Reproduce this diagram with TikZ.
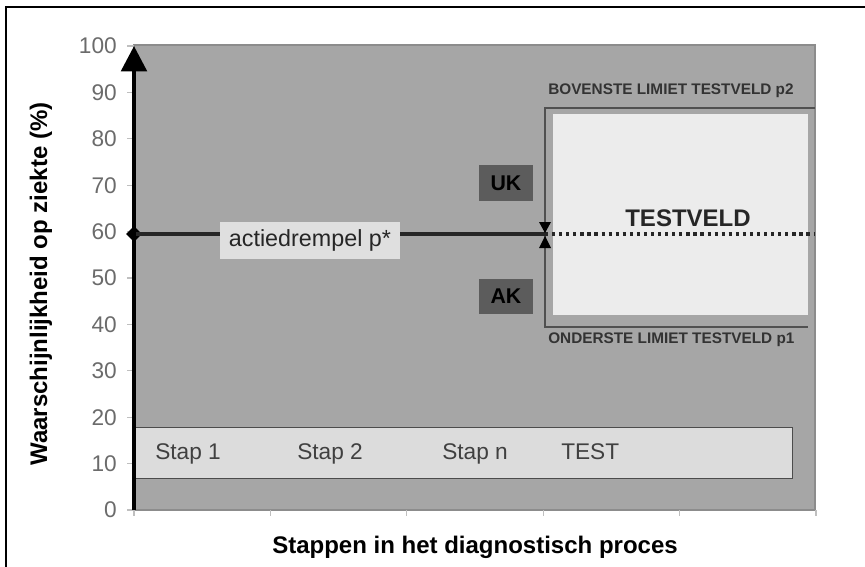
\documentclass[tikz,border=0pt]{standalone}
\usepackage{fontspec}
\setmainfont{Liberation Sans}
\usepackage{tikz}
\usetikzlibrary{arrows.meta,positioning,shapes.geometric}
\definecolor{plotgrey}{RGB}{166,166,166}
\definecolor{bandgrey}{RGB}{220,220,220}
\definecolor{veldgrey}{RGB}{236,236,236}
\definecolor{kgrey}{RGB}{92,92,92}
\definecolor{randgrey}{RGB}{80,80,80}
\tikzset{
  plotarea/.style={fill=plotgrey,draw=black!45,line width=0.8pt},
  tickmark/.style={draw=black!25,line width=0.8pt},
  ticklabel/.style={anchor=east,inner sep=0pt,text=black!58,
    font=\fontsize{17}{17}\selectfont},
  staplabel/.style={anchor=base west,inner sep=0pt,text=black!75,
    font=\fontsize{17}{17}\selectfont},
  limitlabel/.style={anchor=base west,inner sep=0pt,text=black!80,
    font=\bfseries\fontsize{11.5}{12}\selectfont},
  kbox/.style={fill=kgrey,minimum width=40pt,minimum height=26.5pt,
    inner sep=0pt,font=\bfseries\fontsize{16}{16}\selectfont},
  axistitle/.style={inner sep=0pt,font=\bfseries\fontsize{18}{18}\selectfont},
  drempelline/.style={draw=black!85,line width=2.3pt},
  veldline/.style={draw=randgrey,line width=1.2pt}
}
\begin{document}
\begin{tikzpicture}[x=0.75pt,y=-0.75pt]
  \useasboundingbox (0,0) rectangle (865,567);
  % kader
  \draw[black,line width=0.8pt] (6,567) -- (6,7) -- (865,7);
  % grijs veld
  \draw[plotarea] (134,45) rectangle (815,510);
  % assen
  \coordinate (oorsprong) at (134,510);
  \coordinate (top) at (134,46);
  \foreach \v in {0,10,...,100}{
    \draw[tickmark] (127,510-4.64*\v) -- (134,510-4.64*\v);
    \node[ticklabel] (tick\v) at (117,510-4.64*\v) {\v};
  }
  \foreach \i in {0,...,5}
    \draw[tickmark] (134+136.4*\i,510) -- ++(0,6);
  % stappen
  \node[draw=black!70,line width=0.8pt,fill=bandgrey,anchor=north west,
    minimum width=493.5pt,minimum height=38.25pt,inner sep=0pt]
    (stappen) at (134,427) {};
  \node[staplabel] (stap1) at (155,459) {Stap 1};
  \node[staplabel] (stap2) at (297,459) {Stap 2};
  \node[staplabel] (stapn) at (442,459) {Stap n};
  \node[staplabel] (test) at (561,459) {TEST};
  % testveld
  \node[fill=veldgrey,anchor=north west,minimum width=191.25pt,
    minimum height=150.75pt,inner sep=0pt] (veld) at (553,114) {};
  \draw[veldline] (815,108) -- (545,108) -- (545,327) -- (808,327);
  \node[font=\bfseries\fontsize{18}{18}\selectfont,text=black!85]
    (testveld) at (688,218) {TESTVELD};
  \node[limitlabel] (boven) at (548,95) {BOVENSTE LIMIET TESTVELD p2};
  \node[limitlabel] (onder) at (548,343) {ONDERSTE LIMIET TESTVELD p1};
  \node[kbox] (uk) at (506,183) {UK};
  \node[kbox] (ak) at (506,296.5) {AK};
  % actiedrempel
  \node[diamond,fill=black,minimum size=12pt,inner sep=0pt] (drempel) at (134,234) {};
  \coordinate (grens) at (545,234);
  \coordinate (rechts) at (815,234);
  \draw[drempelline] (drempel.center) -- (grens);
  \draw[draw=black!85,line width=2.4pt,dash pattern=on 2.4pt off 2.9pt] (grens) -- (rechts);
  \fill[black] (grens) ++(-6,-12) -- ++(12,0) -- ++(-6,11) -- cycle;
  \fill[black] (grens) ++(-6,14) -- ++(12,0) -- ++(-6,-12) -- cycle;
  \node[fill=bandgrey!90!white,minimum width=135pt,minimum height=27.5pt,
    inner sep=0pt,text=black!85,font=\fontsize{17.5}{18}\selectfont]
    (drempellabel) at (310,240.5) {actiedrempel p*};
  \draw[black,line width=3.2pt,-{Triangle[length=19pt,width=19pt]}] (oorsprong) -- (top);
  % astitels
  \node[axistitle,rotate=90,anchor=base] (ytitel) at (47,284)
    {Waarschijnlijkheid op ziekte (\%)};
  \node[axistitle,anchor=base] (xtitel) at (475,553)
    {Stappen in het diagnostisch proces};
\end{tikzpicture}
\end{document}
